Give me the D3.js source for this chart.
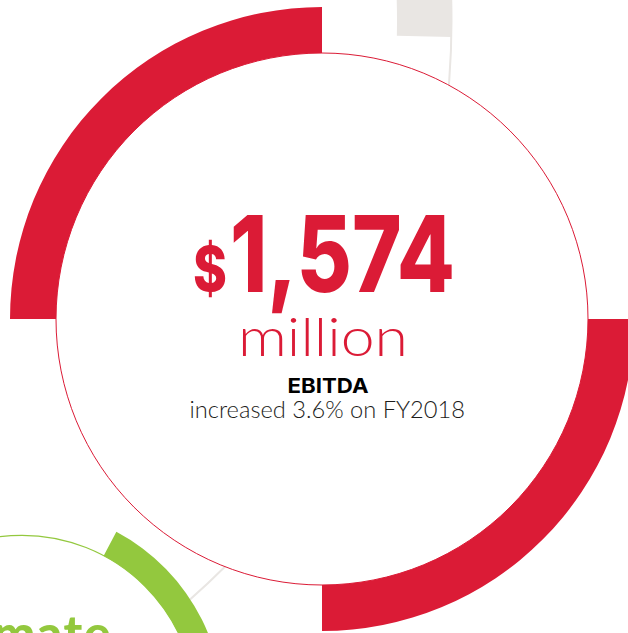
<!DOCTYPE html>
<html>
<head>
<meta charset="utf-8">
<script src="https://cdn.jsdelivr.net/npm/d3@7"></script>
<style>
  html, body { margin: 0; padding: 0; background: #ffffff; }
  svg { display: block; }
</style>
</head>
<body>
<div id="chart"></div>
<script>
// ---- data ----
// EBITDA headline and the quarter ring around it
const ebitdaValue = 1574;              // $ million
const ebitdaUnit = "million";
const metricName = "EBITDA";
const growthPct = 3.6;
const compareYear = "FY2018";
const ringSegments = ["NE", "SE", "SW", "NW"];
const ringShare = [25, 25, 25, 25];
const ringFilled = [false, true, false, true];

// neighbouring panels (only partly visible): arc spans in degrees, clockwise from 12 o'clock
const neighbourNames = ["Climate", "connector"];
const neighbourStartDeg = [28, 60];
const neighbourEndDeg = [170, 91.2];

// ---- layout ----
const W = 628, H = 633;
const RED = "#db1b36", GREEN = "#93c83e", GREY = "#e9e6e3", INK = "#1d1d1b";

const svg = d3.select("#chart").append("svg")
  .attr("width", W).attr("height", H)
  .attr("viewBox", `0 0 ${W} ${H}`);

const rad = d => d * Math.PI / 180;

// grey connector ring from the panel above
const grey = svg.append("g").attr("transform", "translate(-319.5,20.75)");
grey.append("circle").attr("r", 771)
  .attr("fill", "none").attr("stroke", GREY).attr("stroke-width", 2);
grey.append("path")
  .attr("d", d3.arc().innerRadius(716.5).outerRadius(771)
    .startAngle(rad(neighbourStartDeg[1])).endAngle(rad(neighbourEndDeg[1]))())
  .attr("fill", GREY);

// green panel in the lower left
const green = svg.append("g").attr("transform", "translate(22,709.3)");
green.append("circle").attr("r", 174)
  .attr("fill", "#ffffff").attr("stroke", GREEN).attr("stroke-width", 1.2);
green.append("path")
  .attr("d", d3.arc().innerRadius(174).outerRadius(201)
    .startAngle(rad(neighbourStartDeg[0])).endAngle(rad(neighbourEndDeg[0]))())
  .attr("fill", GREEN);
svg.append("text")
  .attr("x", 112).attr("y", 651)
  .attr("text-anchor", "end")
  .attr("font-family", "Lato, 'Noto Sans', sans-serif")
  .attr("font-weight", 900)
  .attr("font-size", 50)
  .attr("letter-spacing", 1.5)
  .attr("fill", GREEN)
  .text(neighbourNames[0]);

// main EBITDA ring
const cx = 322, cy = 319, rInner = 266, rOuter = 312;
const main = svg.append("g").attr("transform", `translate(${cx},${cy})`);
main.append("circle").attr("r", rInner)
  .attr("fill", "#ffffff").attr("stroke", RED).attr("stroke-width", 1);

const pie = d3.pie().sort(null).value(d => d.share);
const ringData = pie(ringSegments.map((s, i) => ({ name: s, share: ringShare[i], filled: ringFilled[i] })));
const ringArc = d3.arc().innerRadius(rInner).outerRadius(rOuter);
main.selectAll("path.seg")
  .data(ringData.filter(d => d.data.filled))
  .join("path")
  .attr("class", "seg")
  .attr("d", ringArc)
  .attr("fill", RED);

// headline text
const fmt = d3.format(",");
svg.append("text")
  .attr("x", 193).attr("y", 291)
  .attr("font-family", "Inter, 'Noto Sans', sans-serif")
  .attr("font-weight", 800)
  .attr("font-size", 62)
  .attr("textLength", 34).attr("lengthAdjust", "spacingAndGlyphs")
  .attr("fill", RED)
  .text("$");
svg.append("text")
  .attr("x", 230).attr("y", 291.5)
  .attr("font-family", "Inter, 'Noto Sans', sans-serif")
  .attr("font-weight", 800)
  .attr("font-size", 106)
  .attr("textLength", 225).attr("lengthAdjust", "spacingAndGlyphs")
  .attr("fill", RED)
  .text(fmt(ebitdaValue));
svg.append("text")
  .attr("x", 238).attr("y", 356)
  .attr("font-family", "Lato, 'Noto Sans', sans-serif")
  .attr("font-weight", 300)
  .attr("font-size", 53)
  .attr("textLength", 170).attr("lengthAdjust", "spacingAndGlyphs")
  .attr("fill", RED)
  .text(ebitdaUnit);
svg.append("text")
  .attr("x", 287.5).attr("y", 393.3)
  .attr("font-family", "Inter, 'Noto Sans', sans-serif")
  .attr("font-weight", 700)
  .attr("font-size", 20.5)
  .attr("textLength", 81).attr("lengthAdjust", "spacingAndGlyphs")
  .attr("fill", "#000000")
  .text(metricName);
svg.append("text")
  .attr("x", 189.5).attr("y", 418.3)
  .attr("font-family", "Lato, 'Noto Sans', sans-serif")
  .attr("font-weight", 300)
  .attr("font-size", 22.5)
  .attr("textLength", 275.5).attr("lengthAdjust", "spacingAndGlyphs")
  .attr("fill", INK)
  .text(`increased ${growthPct}% on ${compareYear}`);
</script>
</body>
</html>
